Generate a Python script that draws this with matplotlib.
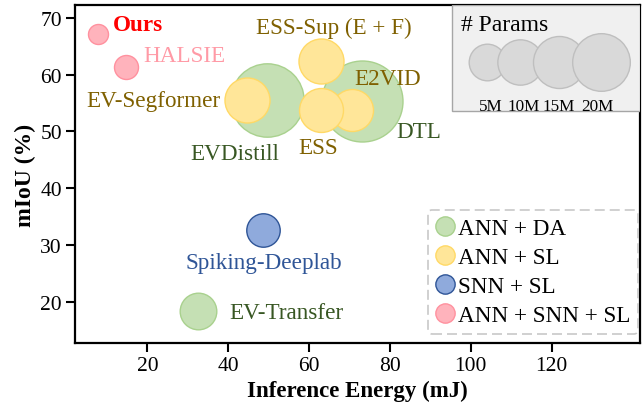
import numpy as np
import matplotlib
matplotlib.use("Agg")
import matplotlib.pyplot as plt
from matplotlib.lines import Line2D
from matplotlib.patches import Rectangle

plt.rcParams['font.family'] = ['Liberation Serif', 'DejaVu Serif']

# ---- data ----
methods = ["Ours", "HALSIE", "EVDistill", "DTL", "EV-Transfer", "Spiking-Deeplab",
           "E2VID", "ESS-Sup (E + F)", "EV-Segformer", "ESS"]
energy = [7.7, 14.7, 49.5, 73.0, 32.6, 48.5, 70.6, 62.9, 44.6, 63.0]
miou = [67.1, 61.3, 55.5, 55.3, 18.3, 32.7, 53.8, 62.4, 55.5, 53.7]
params_m = [0.22, 0.8, 37.8, 48.4, 5.0, 3.6, 7.9, 9.8, 9.8, 9.1]
category = ["ANN + SNN + SL", "ANN + SNN + SL", "ANN + DA", "ANN + DA", "ANN + DA",
            "SNN + SL", "ANN + SL", "ANN + SL", "ANN + SL", "ANN + SL"]
categories = ["ANN + DA", "ANN + SL", "SNN + SL", "ANN + SNN + SL"]
size_legend_params = [5, 10, 15, 20]
size_legend_labels = ["5M", "10M", "15M", "20M"]
x_ticks = [20, 40, 60, 80, 100, 120]
y_ticks = [20, 30, 40, 50, 60, 70]

# ---- styles ----
DPI = 100
LBL_FS = 16.7
face = {"ANN + DA": "#c5e0b4", "ANN + SL": "#ffe699", "SNN + SL": "#8faadc", "ANN + SNN + SL": "#ffb3bc"}
edge = {"ANN + DA": "#a9d18e", "ANN + SL": "#ffd966", "SNN + SL": "#2f5597", "ANN + SNN + SL": "#ff919f"}
label_style = {
    "Ours": dict(color="#ff0000", weight="bold", off=(10.8, 7), ha="left"),
    "HALSIE": dict(color="#ff9aa6", weight="normal", off=(12.5, 8.4), ha="left"),
    "EVDistill": dict(color="#385723", weight="normal", off=(-22.8, -38.4), ha="center"),
    "DTL": dict(color="#385723", weight="normal", off=(41.4, -22), ha="center"),
    "EV-Transfer": dict(color="#385723", weight="normal", off=(22.1, -0.7), ha="left"),
    "Spiking-Deeplab": dict(color="#2f5597", weight="normal", off=(0.7, -23.5), ha="center"),
    "E2VID": dict(color="#7f6000", weight="normal", off=(26.1, 22.3), ha="center"),
    "ESS-Sup (E + F)": dict(color="#7f6000", weight="normal", off=(9.6, 24.5), ha="center"),
    "EV-Segformer": dict(color="#7f6000", weight="normal", off=(-19.2, 0), ha="right"),
    "ESS": dict(color="#7f6000", weight="normal", off=(-1.9, -26.4), ha="center"),
}


def radius_px(p):
    return 7.8 + 4.7 * np.sqrt(p)


def marker_area(p):
    d_pt = 2 * radius_px(p) * 72 / DPI
    return d_pt ** 2


fig = plt.figure(figsize=(6.44, 4.06), dpi=DPI)
ax = fig.add_axes([0.1165, 0.1527, 0.8773, 0.8325])

for m, x, y, p, c in zip(methods, energy, miou, params_m, category):
    ax.scatter([x], [y], s=marker_area(p), facecolor=face[c], edgecolor=edge[c],
               linewidth=1.0, zorder=3)
    st = label_style[m]
    ax.annotate(m, (x, y), xytext=st["off"], textcoords="offset points",
                ha=st["ha"], va="center", fontsize=LBL_FS, color=st["color"],
                fontweight=st["weight"], zorder=5)

ax.set_xlim(2.1, 141.9)
ax.set_ylim(12.7, 72.3)
ax.set_xticks(x_ticks)
ax.set_yticks(y_ticks)
ax.tick_params(axis="both", labelsize=15.5, length=6.5, width=1.5, direction="out", pad=3)
for s in ax.spines.values():
    s.set_linewidth(1.6)
ax.set_xlabel("Inference Energy (mJ)", fontsize=16.5, fontweight="bold", labelpad=3)
ax.set_ylabel("mIoU (%)", fontsize=17, fontweight="bold", labelpad=3)

# size legend box
ax.add_patch(Rectangle((0.667, 0.687), 0.333, 0.313, transform=ax.transAxes,
                       facecolor="#f0f0f0", edgecolor="#a6a6a6", linewidth=1.0, zorder=6))
ax.text(0.6835, 0.9415, "# Params", transform=ax.transAxes, fontsize=17,
        ha="left", va="center", zorder=7)
leg_x = [0.7287, 0.7876, 0.8572, 0.9304]
lab_x = [0.7368, 0.7943, 0.8570, 0.9248]
for p, lx, tx, lab in zip(size_legend_params, leg_x, lab_x, size_legend_labels):
    ax.scatter([lx], [0.8305], s=marker_area(p), transform=ax.transAxes,
               facecolor="#d9d9d9", edgecolor="#bfbfbf", linewidth=1.0, zorder=7,
               clip_on=False)
    ax.text(tx, 0.700, lab, transform=ax.transAxes, fontsize=12.3, ha="center",
            va="center", zorder=8)

# category legend
handles = [Line2D([], [], linestyle="none", marker="o", markersize=13.9,
                  markerfacecolor=face[c], markeredgecolor=edge[c], markeredgewidth=1.0)
           for c in categories]
leg = ax.legend(handles, categories, loc="lower right", bbox_to_anchor=(0.997, 0.027),
                borderaxespad=0, fontsize=LBL_FS, handlelength=0.8, handletextpad=0.15,
                labelspacing=0.33, borderpad=0.35, frameon=True, fancybox=True)
fr = leg.get_frame()
fr.set_edgecolor("#c8c8c8")
fr.set_linestyle((0, (6, 3)))
fr.set_linewidth(1.2)
fr.set_facecolor("white")
fr.set_alpha(1)
leg.set_zorder(9)

fig.savefig("out.png", dpi=DPI)
